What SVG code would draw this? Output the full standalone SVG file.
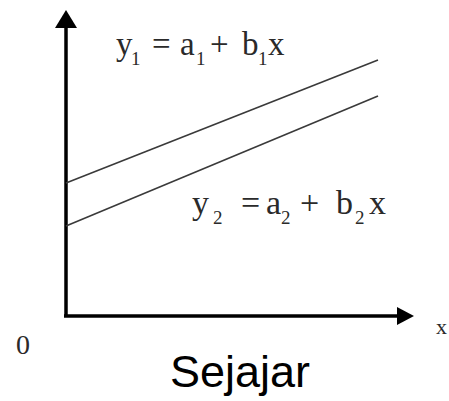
<svg xmlns="http://www.w3.org/2000/svg" width="449" height="401" viewBox="0 0 449 401">
<style>
.eq{font-family:"Liberation Serif","Times New Roman",serif;fill:#2a2a2a}
.sub{font-size:19px}
.axis{stroke:#000;stroke-width:3.5;fill:none}
.ln{stroke:#3a3a3a;stroke-width:1.6;fill:none}
</style>
<rect width="449" height="401" fill="#fff"/>
<g id="connectors">
<line class="axis" x1="66" y1="24" x2="66" y2="317"/>
<polygon points="66,10 55,28 77,28" fill="#000"/>
<line class="axis" x1="64" y1="316" x2="400" y2="316"/>
<polygon points="414,316 397,307 397,325" fill="#000"/>
<line class="ln" x1="66" y1="183" x2="378" y2="60"/>
<line class="ln" x1="66" y1="226" x2="378" y2="96"/>
</g>
<g id="label-y1">
<text class="eq" font-size="33" y="55"><tspan x="116">y</tspan><tspan class="sub" x="131" dy="10">1</tspan><tspan x="152" dy="-10">=</tspan><tspan x="180">a</tspan><tspan class="sub" x="196" dy="10">1</tspan><tspan x="210" dy="-10">+</tspan><tspan x="242">b</tspan><tspan class="sub" x="258" dy="10">1</tspan><tspan x="268" dy="-10">x</tspan></text>
</g>
<g id="label-y2">
<text class="eq" font-size="34" y="214"><tspan x="192">y</tspan><tspan class="sub" x="213" dy="10">2</tspan><tspan x="241" dy="-10">=</tspan><tspan x="266">a</tspan><tspan class="sub" x="281" dy="10">2</tspan><tspan x="300" dy="-10">+</tspan><tspan x="336">b</tspan><tspan class="sub" x="355" dy="10">2</tspan><tspan x="369" dy="-10">x</tspan></text>
</g>
<g id="origin">
<text class="eq" font-size="28" x="16" y="354">0</text>
</g>
<g id="x-label">
<text class="eq" font-size="22" x="436" y="334">x</text>
</g>
<g id="caption">
<text x="240" y="387" font-family="Liberation Sans, Arial, sans-serif" font-size="45" text-anchor="middle" fill="#000">Sejajar</text>
</g>
</svg>
